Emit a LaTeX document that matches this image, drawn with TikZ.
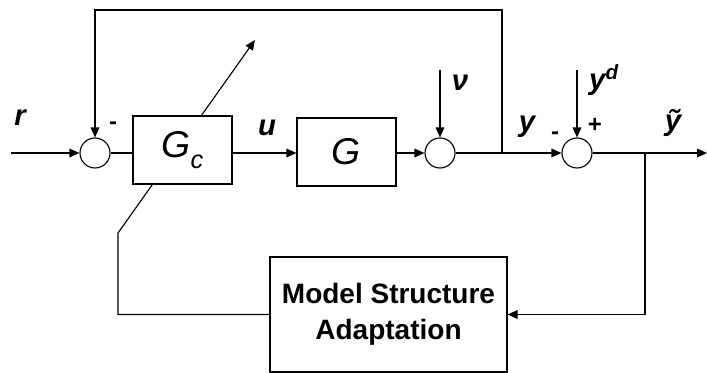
\documentclass[tikz,border=0pt]{standalone}
\usepackage{fontspec}
\setmainfont{Liberation Sans}
\usetikzlibrary{arrows.meta,positioning,backgrounds}

\begin{document}
\begin{tikzpicture}[x=0.75pt,y=-0.75pt,
  every path/.style={line width=0.85pt},
  box/.style={draw,fill=white,inner sep=0pt,align=center},
  sumnode/.style={draw,circle,fill=white,minimum size=22.5pt,inner sep=0pt},
  lbl/.style={inner sep=0pt,font=\fontsize{22}{26}\selectfont\bfseries\itshape},
  sgn/.style={inner sep=0pt,font=\fontsize{18}{20}\selectfont\bfseries},
  sig/.style={-{Triangle[length=7.5pt,width=6.5pt]}}]
\useasboundingbox (0,0) rectangle (707,373);
% forward path
\coordinate (in) at (11,153);
\node[sumnode] (s1) at (95,153) {};
\node[box,minimum width=74.25pt,minimum height=51pt,font=\fontsize{28}{32}\selectfont\itshape] (gc) at (182.5,150)
  {G\raisebox{-0.3em}{\fontsize{19}{19}\selectfont c}};
\node[box,minimum width=74.25pt,minimum height=51pt,font=\fontsize{28}{32}\selectfont\itshape] (g) at (346.5,152) {G};
\node[sumnode] (s2) at (440,153) {};
\node[sumnode] (s3) at (577,153) {};
\coordinate (out) at (707,153);
\coordinate (j1) at (502,153);
\coordinate (j2) at (645,153);
\coordinate (top) at (502,10);
\coordinate (nutop) at (440,70);
\coordinate (ydtop) at (577,70);
% adaptation block
\node[box,minimum width=177.75pt,minimum height=86.25pt,font=\fontsize{21}{27}\selectfont\bfseries] (msa) at (388.5,314.5)
  {Model Structure\\Adaptation};
\coordinate (kink) at (118,233);
\coordinate (tip) at (255,40);
% connectors
\draw[sig] (in) -- (s1.west);
\draw (s1.east) -- (s1.east -| gc.west);
\draw[sig] (gc.east |- s1.east) -- (g.west |- s1.east);
\draw[sig] (g.east |- s2.west) -- (s2.west);
\draw (s2.east) -- (j1);
\draw[sig] (j1) -- (s3.west);
\draw[sig] (s3.east) -- (out);
\draw[sig] (j1) -- (top) -| (s1.north);
\draw[sig] (nutop) -- (s2.north);
\draw[sig] (ydtop) -- (s3.north);
\draw[sig] (j2) |- (msa.east);
\begin{scope}[on background layer]
\draw[sig] (msa.west) -| (kink) -- (tip);
\end{scope}
% labels
\node[lbl] (lr) at (20,118) {r};
\node[sgn] (m1) at (113,126) {-};
\node[lbl] (lu) at (267,128) {u};
\node[lbl] (lnu) at (460,83) {ν};
\node[lbl] (ly) at (527,127) {y};
\node[sgn] (m2) at (555,136) {-};
\node[sgn] (p2) at (595,125) {+};
\node[lbl] (lyd) at (604,80) {y\textsuperscript{d}};
\node[lbl] (lyt) at (673,123) {ỹ};
\end{tikzpicture}
\end{document}
